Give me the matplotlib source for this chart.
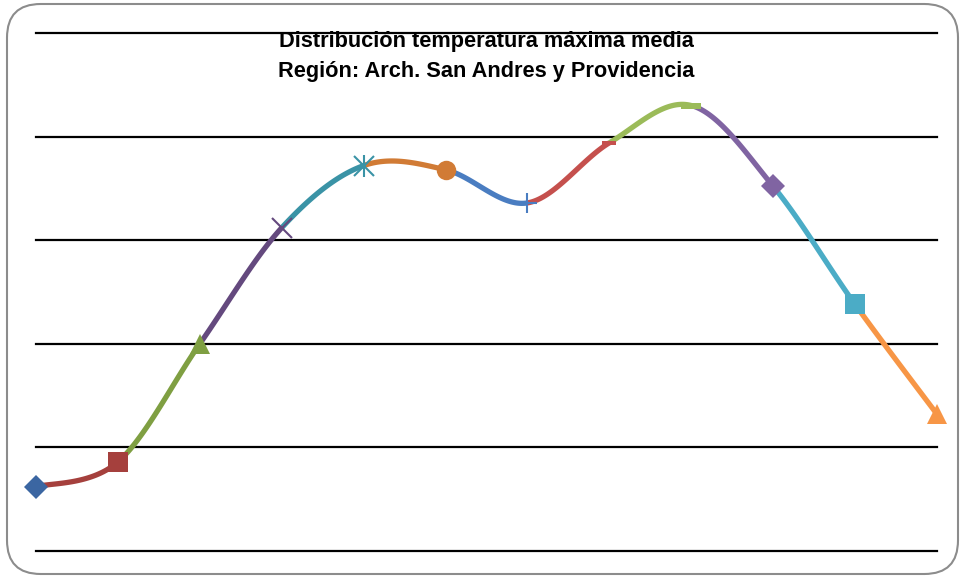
import numpy as np
import matplotlib
matplotlib.use("Agg")
import matplotlib.pyplot as plt
from matplotlib.patches import FancyBboxPatch
from matplotlib.path import Path

# Data (axis units hidden in reference)
months = list(range(1, 13))
temps = [28.81, 28.93, 29.50, 30.06, 30.36, 30.34, 30.18, 30.47, 30.65, 30.26, 29.69, 29.16]
grid_values = [28.5, 29.0, 29.5, 30.0, 30.5, 31.0]
title_line1 = "Distribución temperatura máxima media"
title_line2 = "Región: Arch. San Andres y Providencia"

point_colors = ["#3B66A2", "#A5403D", "#7F9F42", "#64497E", "#3A93A6", "#D17B35",
                "#4A7DC1", "#C5504D", "#9BBB59", "#8064A2", "#4BACC6", "#F79646"]

short_dash = Path([(-1, -0.3), (1, -0.3), (1, 0.3), (-1, 0.3), (-1, -0.3)],
                  [Path.MOVETO, Path.LINETO, Path.LINETO, Path.LINETO, Path.CLOSEPOLY])
markers = ["D", "s", "^", "x", "star", "o", "+", short_dash, short_dash, "D", "s", "^"]
msizes = [12.5, 14, 14.5, 14, 14, 14, 14, 10, 14, 12.5, 14, 14.5]

fig = plt.figure(figsize=(9.63, 5.76), dpi=100)
W, H = 963, 576
ax = fig.add_axes([36 / W, 25 / H, (937 - 36) / W, (543 - 25) / H])
ax.set_xlim(1, 12)
ax.set_ylim(grid_values[0], grid_values[-1])
for s in ax.spines.values():
    s.set_visible(False)
ax.set_xticks([])
ax.set_yticks(grid_values)
ax.tick_params(axis="y", length=0, labelleft=False)
for g in grid_values:
    ax.axhline(g, color="black", lw=1.6, zorder=1, clip_on=False)

# Catmull-Rom (Excel-like smoothing) segments
x = np.array(months, dtype=float)
y = np.array(temps, dtype=float)
n = len(x)
t = np.linspace(0, 1, 60)
for i in range(n - 1):
    p0 = np.array([x[max(i - 1, 0)], y[max(i - 1, 0)]])
    p1 = np.array([x[i], y[i]])
    p2 = np.array([x[i + 1], y[i + 1]])
    p3 = np.array([x[min(i + 2, n - 1)], y[min(i + 2, n - 1)]])
    c1 = p1 + (p2 - p0) / 6
    c2 = p2 - (p3 - p1) / 6
    bx = ((1 - t) ** 3) * p1[0] + 3 * ((1 - t) ** 2) * t * c1[0] + 3 * (1 - t) * t ** 2 * c2[0] + t ** 3 * p2[0]
    by = ((1 - t) ** 3) * p1[1] + 3 * ((1 - t) ** 2) * t * c1[1] + 3 * (1 - t) * t ** 2 * c2[1] + t ** 3 * p2[1]
    ax.plot(bx, by, color=point_colors[i + 1], lw=3.8, solid_capstyle="butt", zorder=3, clip_on=False)

for i in range(n):
    m = markers[i]
    c = point_colors[i]
    if m == "star":
        ax.plot(x[i], y[i], marker="x", ms=msizes[i], mew=1.5, color=c, zorder=4, clip_on=False)
        ax.plot(x[i], y[i], marker="|", ms=msizes[i] * 1.1, mew=1.5, color=c, zorder=4, clip_on=False)
    elif m in ("x", "+"):
        ax.plot(x[i], y[i], marker=m, ms=msizes[i], mew=1.5, color=c, zorder=4, clip_on=False)
    else:
        ax.plot(x[i], y[i], marker=m, ms=msizes[i], mew=0, color=c, zorder=4, clip_on=False)

fam = ["Liberation Sans Narrow", "Liberation Sans", "DejaVu Sans"]
cx = (36 + 937) / 2 / W
fig.text(cx, 1 - 41 / H, title_line1, ha="center", va="center", fontsize=15.7,
         fontweight="bold", family=fam)
fig.text(cx, 1 - 72 / H, title_line2, ha="center", va="center", fontsize=15.7,
         fontweight="bold", family=fam)

border = FancyBboxPatch((7 / W, 2 / H), (958 - 7) / W, (572 - 2) / H,
                        boxstyle="round,pad=0,rounding_size=0.035",
                        transform=fig.transFigure, fill=False,
                        edgecolor="#8C8C8C", lw=1.5, zorder=0, mutation_aspect=W / H)
fig.patches.append(border)

fig.savefig("out.png", dpi=100)
